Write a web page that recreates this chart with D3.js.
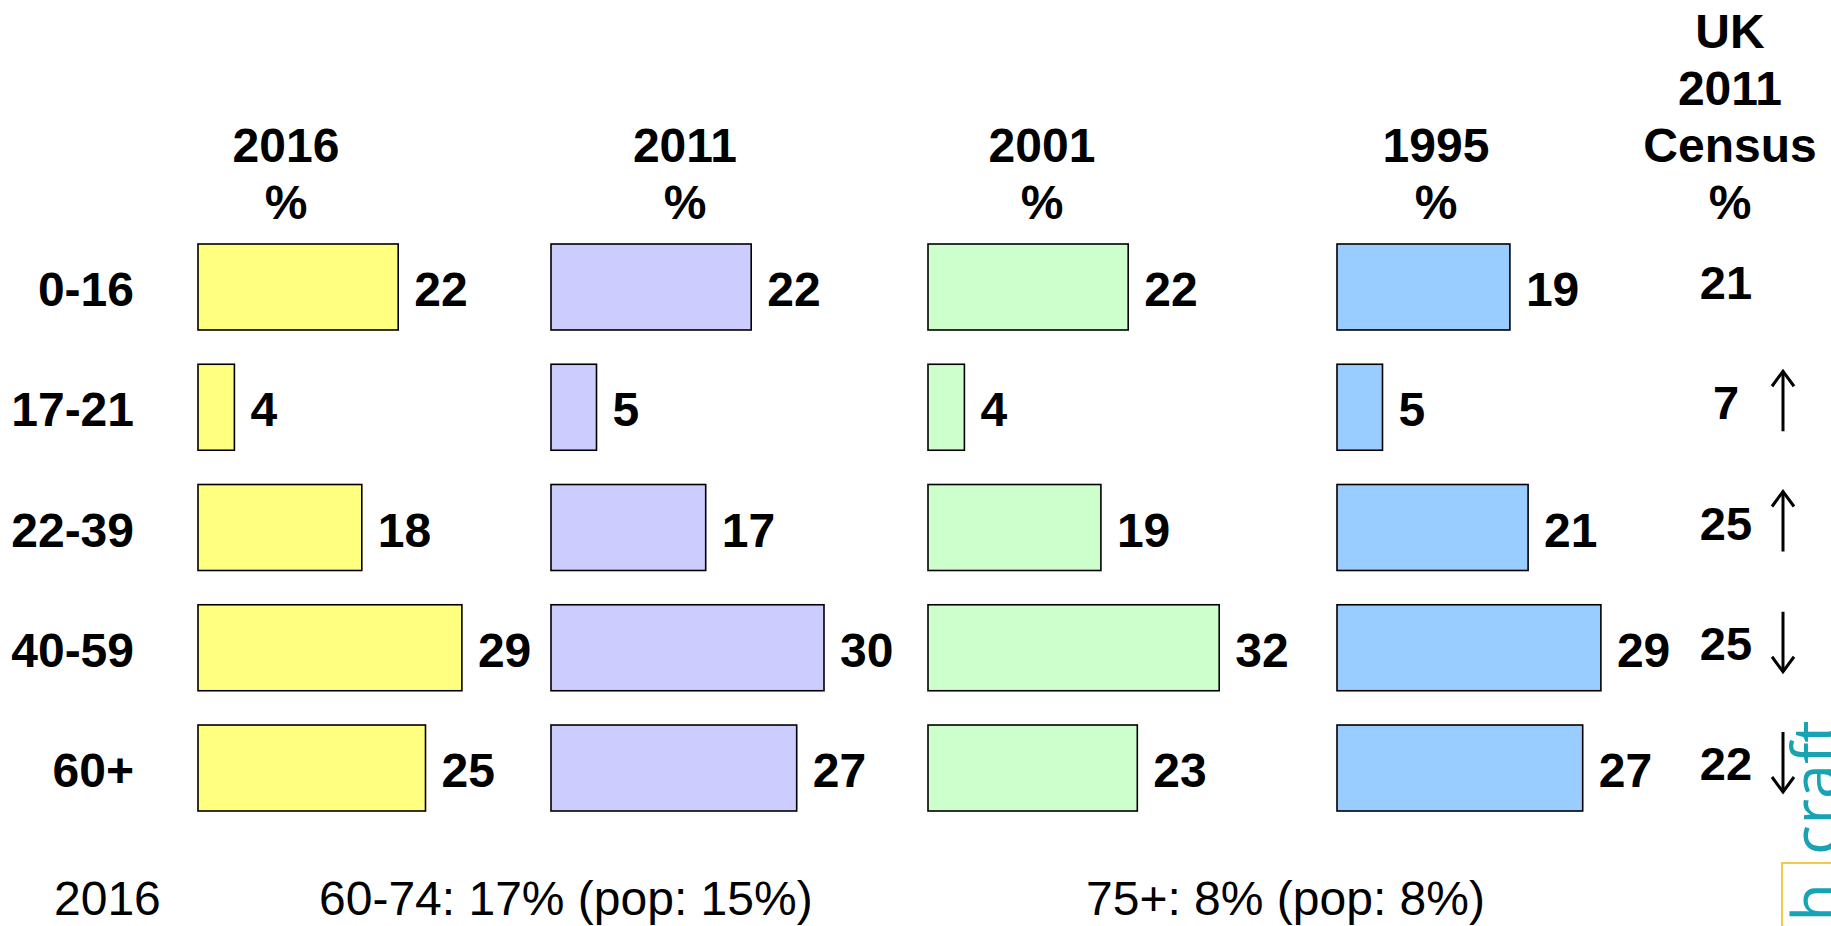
<!DOCTYPE html>
<html>
<head>
<meta charset="utf-8">
<script src="https://cdn.jsdelivr.net/npm/d3@7"></script>
<style>
    body { margin: 0; background: #fff; }
    svg { display: block; font-family: "Liberation Sans", Arial, sans-serif; }
</style>
</head>
<body>
<svg id="chart" width="1831" height="926"></svg>
<script>
// ---- Dados
const ageGroups = ['0-16', '17-21', '22-39', '40-59', '60+'];
const years = ['2016', '2011', '2001', '1995'];
const values2016 = [22, 4, 18, 29, 25];
const values2011 = [22, 5, 17, 30, 27];
const values2001 = [22, 4, 19, 32, 23];
const values1995 = [19, 5, 21, 29, 27];
const census2011 = [21, 7, 25, 25, 22];
const censusTrend = ['', 'up', 'up', 'down', 'down'];
const footnotes = ['2016', '60-74: 17% (pop: 15%)', '75+: 8% (pop: 8%)'];

const series = [values2016, values2011, values2001, values1995];
const colors = ['#ffff80', '#ccccff', '#ccffcc', '#99ccff'];

// ---- Layout
const colLeft = [198, 551, 928, 1337];
const headX = [286, 685, 1042, 1436];
const censusX = 1726;
const arrowX = 1783;
const footX = [54, 319, 1086];

const svg = d3.select('#chart');

// ---- Escalas
const mapX = d3.scaleLinear().domain([0, 100]).range([0, 910]);
const mapY = d3.scaleBand().domain(ageGroups).range([244, 811]).paddingInner(0.285).paddingOuter(0);
const bw = mapY.bandwidth();

// ---- Cabeçalhos
svg.selectAll('.head')
    .data(years)
    .join('text')
    .attr('class', 'head')
    .attr('x', (d, i) => headX[i])
    .attr('y', 162)
    .attr('text-anchor', 'middle')
    .style('font-weight', 'bold')
    .style('font-size', '48px')
    .each(function (d) {
        d3.select(this).append('tspan').text(d);
        d3.select(this).append('tspan').attr('x', d3.select(this).attr('x')).attr('dy', 57).text('%');
    });

const censusHead = ['UK', '2011', 'Census', '%'];
svg.selectAll('.chead')
    .data(censusHead)
    .join('text')
    .attr('class', 'chead')
    .attr('x', censusX + 4)
    .attr('y', (d, i) => 48 + i * 57)
    .attr('text-anchor', 'middle')
    .style('font-weight', 'bold')
    .style('font-size', '48px')
    .text(d => d);

// ---- Rótulos das faixas etárias
svg.selectAll('.age')
    .data(ageGroups)
    .join('text')
    .attr('class', 'age')
    .attr('x', 134)
    .attr('y', d => mapY(d) + bw / 2 + 19)
    .attr('text-anchor', 'end')
    .style('font-weight', 'bold')
    .style('font-size', '48px')
    .text(d => d);

// ---- Barras
series.forEach((vals, c) => {
    const g = svg.append('g').attr('transform', `translate(${colLeft[c]}, 0)`);

    g.selectAll('rect')
        .data(vals)
        .join('rect')
        .attr('x', 0)
        .attr('y', (d, i) => mapY(ageGroups[i]))
        .attr('width', d => mapX(d))
        .attr('height', bw)
        .style('fill', colors[c])
        .style('stroke', '#000')
        .style('stroke-width', 1.6);

    g.selectAll('text')
        .data(vals)
        .join('text')
        .attr('x', d => mapX(d) + 16)
        .attr('y', (d, i) => mapY(ageGroups[i]) + bw / 2 + 19)
        .style('font-weight', 'bold')
        .style('font-size', '48px')
        .text(d => d);
});

// ---- Censo
svg.selectAll('.census')
    .data(census2011)
    .join('text')
    .attr('class', 'census')
    .attr('x', censusX)
    .attr('y', (d, i) => mapY(ageGroups[i]) + bw / 2 + 12)
    .attr('text-anchor', 'middle')
    .style('font-weight', 'bold')
    .style('font-size', '47px')
    .text(d => d);

// ---- Setas
const arrows = svg.selectAll('.arrow')
    .data(censusTrend.map((t, i) => ({ t, age: ageGroups[i] })).filter(d => d.t))
    .join('g')
    .attr('class', 'arrow')
    .attr('transform', d => `translate(${arrowX}, ${mapY(d.age) + bw / 2 - 6})`)
    .style('fill', 'none')
    .style('stroke', '#000')
    .style('stroke-width', 3);

arrows.append('line')
    .attr('x1', 0).attr('x2', 0)
    .attr('y1', -30).attr('y2', 30);

arrows.append('path')
    .attr('d', d => d.t === 'up' ? 'M-11,-15 L0,-30 L11,-15' : 'M-11,15 L0,30 L11,15');

// ---- Notas
svg.selectAll('.foot')
    .data(footnotes)
    .join('text')
    .attr('class', 'foot')
    .attr('x', (d, i) => footX[i])
    .attr('y', 915)
    .style('font-size', '48px')
    .text(d => d);

// ---- Logo
const logo = svg.append('g')
    .attr('transform', 'translate(1837, 0) rotate(-90)')
    .style('font-family', '"Open Sans", sans-serif')
    .style('font-size', '63px')
    .style('fill', '#17a3b4');

logo.append('text')
    .attr('x', -855)
    .attr('y', 0)
    .text('craft');

logo.append('text')
    .attr('x', -883)
    .attr('y', 0)
    .attr('text-anchor', 'end')
    .text('h');

svg.append('rect')
    .attr('x', 1782)
    .attr('y', 863)
    .attr('width', 80)
    .attr('height', 120)
    .style('fill', 'none')
    .style('stroke', '#f3c94a')
    .style('stroke-width', 2);
</script>
</body>
</html>
